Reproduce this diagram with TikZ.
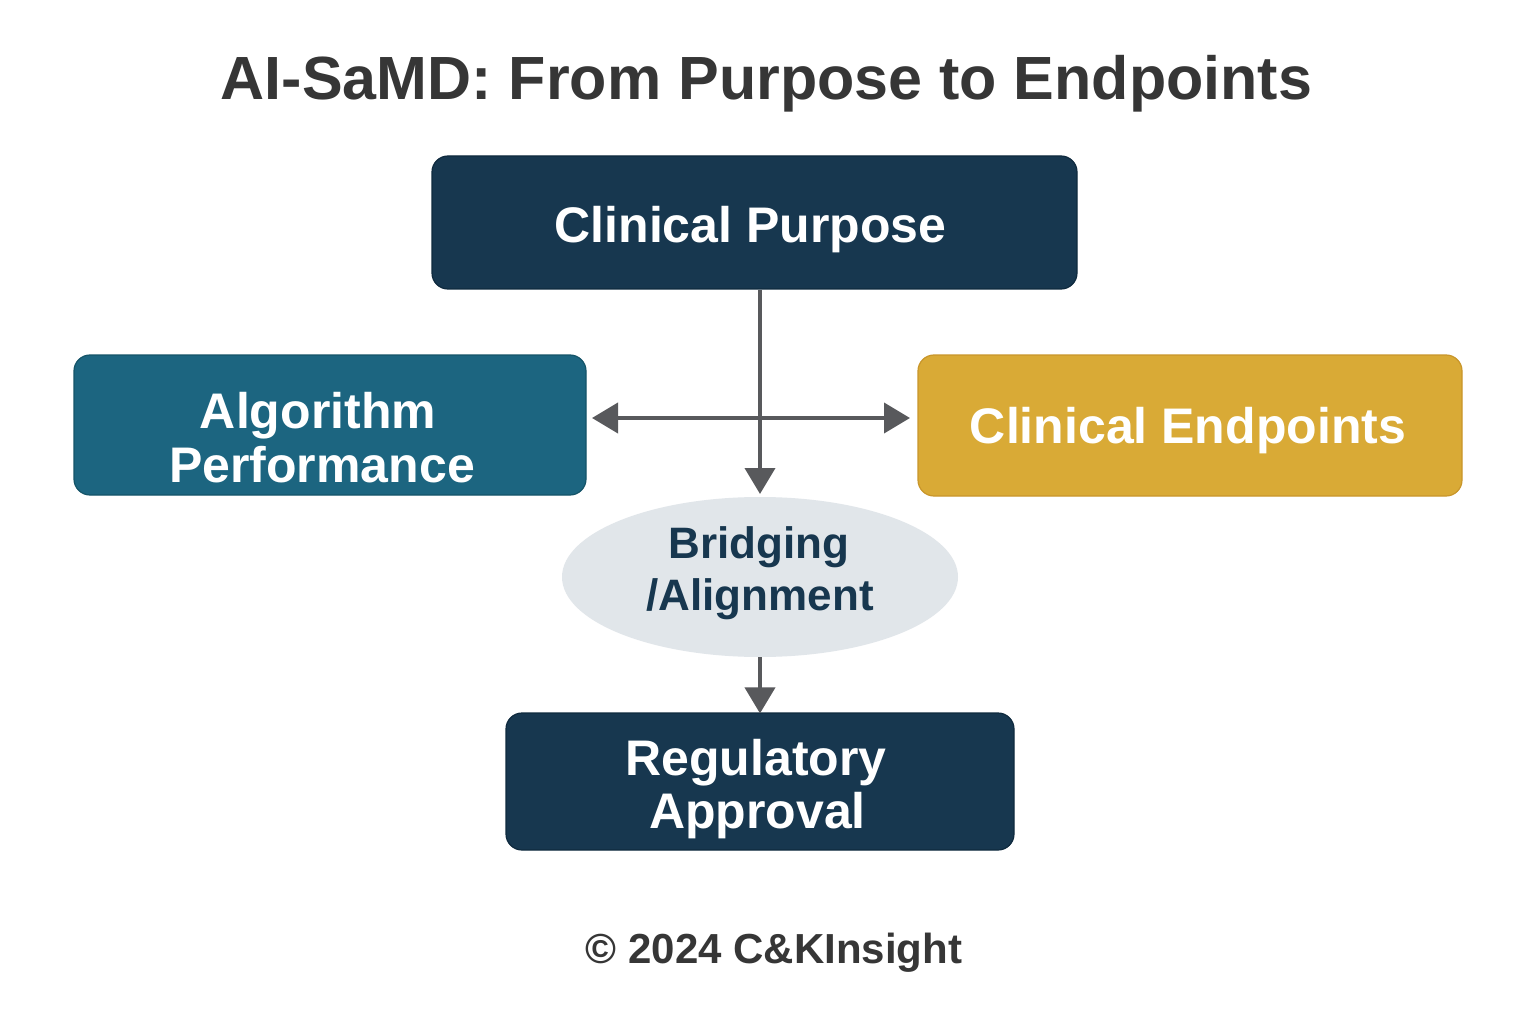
\documentclass[tikz,border=0pt]{standalone}
\usepackage{fontspec}
\setmainfont{Liberation Sans}
\usetikzlibrary{shapes.geometric,arrows.meta}
\definecolor{navy}{HTML}{17374F}
\definecolor{navyedge}{HTML}{0F2A3E}
\definecolor{teal}{HTML}{1C6580}
\definecolor{tealedge}{HTML}{145468}
\definecolor{gold}{HTML}{D9AA36}
\definecolor{goldedge}{HTML}{C9962A}
\definecolor{ellfill}{HTML}{E1E6EA}
\definecolor{arrowgray}{HTML}{58595C}
\definecolor{titlegray}{HTML}{363636}
\tikzset{
  box/.style={rounded corners=16pt, line width=1.2pt, inner sep=0pt},
  boxtext/.style={anchor=base, text=white, inner sep=0pt, font=\fontsize{50}{52}\selectfont\bfseries},
  elltext/.style={anchor=base, text=navy, inner sep=0pt, font=\fontsize{44}{50}\selectfont\bfseries},
  conn/.style={draw=arrowgray, line width=4pt, -{Triangle[width=30pt,length=26pt]}},
  dconn/.style={draw=arrowgray, line width=4pt, {Triangle[width=30pt,length=26pt]}-{Triangle[width=30pt,length=26pt]}}
}
\begin{document}
\begin{tikzpicture}[x=1pt,y=-1pt]
\useasboundingbox[fill=white] (0,0) rectangle (1536,1024);
\node[anchor=base, inner sep=0pt, text=titlegray, font=\fontsize{61}{64}\selectfont\bfseries] (title) at (766.5,100) {AI-SaMD: From Purpose to Endpoints};
% boxes
\node[box, fill=navy, draw=navyedge, minimum width=645pt, minimum height=133pt] (purpose) at (754.5,222.5) {};
\node[box, fill=teal, draw=tealedge, minimum width=512pt, minimum height=140pt] (algo) at (330,425) {};
\node[box, fill=gold, draw=goldedge, minimum width=544pt, minimum height=141pt] (endp) at (1190,425.5) {};
\node[ellipse, fill=ellfill, minimum width=396pt, minimum height=160pt, inner sep=0pt] (bridge) at (760,577) {};
\node[box, fill=navy, draw=navyedge, minimum width=508pt, minimum height=137pt] (reg) at (760,781.5) {};
% texts
\node[boxtext] (purposet) at (750.5,243) {Clinical Purpose};
\node[boxtext] (algot1) at (318,428) {Algorithm};
\node[boxtext] (algot2) at (322,482) {Performance};
\node[boxtext] (endpt) at (1188,443) {Clinical Endpoints};
\node[elltext] (bridget1) at (759,558) {Bridging};
\node[elltext] (bridget2) at (760,610) {/Alignment};
\node[boxtext] (regt1) at (756,775) {Regulatory};
\node[boxtext] (regt2) at (757.5,828) {Approval};
\node[anchor=base, inner sep=0pt, text=titlegray, font=\fontsize{42}{46}\selectfont\bfseries] (copy) at (774,963) {\textcopyright{} 2024 C\&KInsight};
% connectors
\coordinate (cross) at (760,418);
\coordinate (ltip) at (592,418);
\coordinate (rtip) at (910,418);
\coordinate (btip) at (760,494);
\draw[conn] (purpose.south -| btip) -- (btip);
\draw[dconn] (ltip) -- (rtip);
\draw[conn] (bridge.south) -- ([yshift=-1pt]reg.north);
\end{tikzpicture}
\end{document}
